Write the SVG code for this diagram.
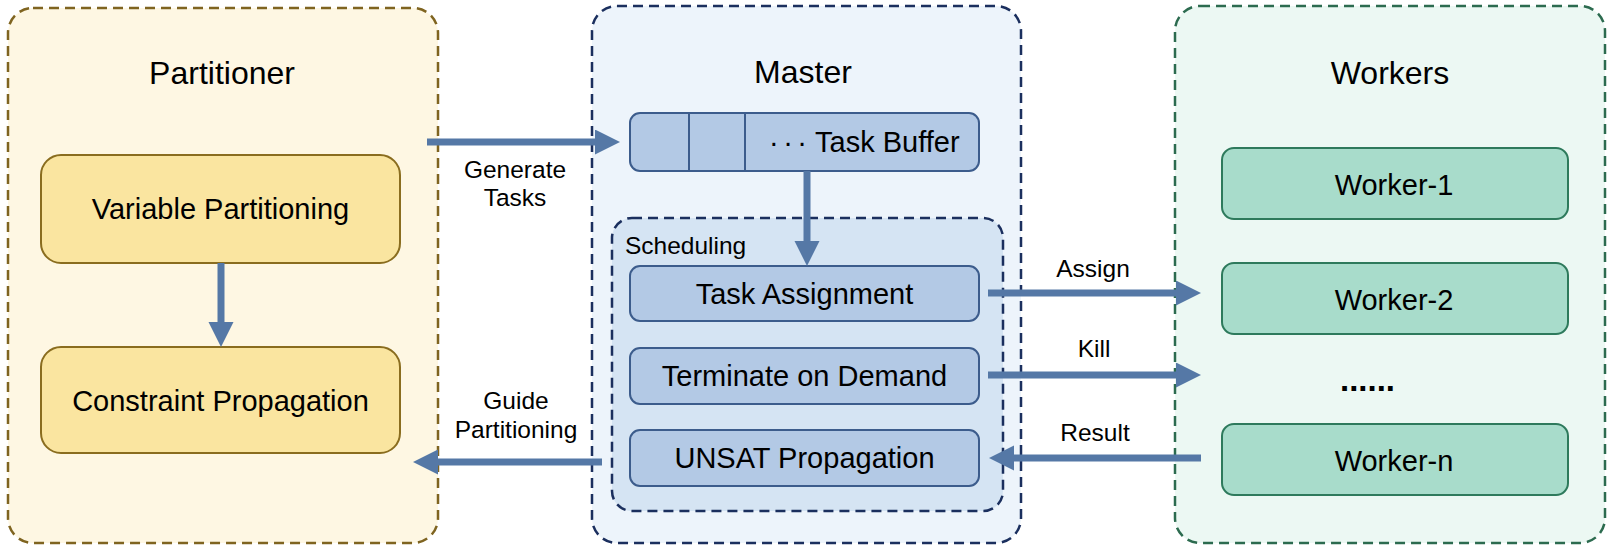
<svg xmlns="http://www.w3.org/2000/svg" width="1615" height="551" viewBox="0 0 1615 551">
<defs>
<marker id="ah" markerUnits="userSpaceOnUse" markerWidth="26" markerHeight="26" refX="0" refY="12.5" orient="auto">
<path d="M0,0 L25,12.5 L0,25 z" fill="#5578a6"/>
</marker>
<style>
text{font-family:"Liberation Sans",Arial,sans-serif;fill:#000}
.title{font-size:32px;text-anchor:middle}
.lbl{font-size:29px;text-anchor:middle}
.small{font-size:24.5px;text-anchor:middle}
.cont{stroke-width:2.5;stroke-dasharray:10 6}
.part{fill:#fef7e3;stroke:#7f6420}
.mast{fill:#edf4fb;stroke:#1b2f5e}
.sched{fill:#d5e4f3;stroke:#1b2f5e}
.work{fill:#ecf8f3;stroke:#2c6b4f}
.ybox{fill:#fae5a0;stroke:#8a6d1f;stroke-width:2}
.bbox{fill:#b3c9e5;stroke:#3c5c8c;stroke-width:2}
.gbox{fill:#a8dccb;stroke:#2e7a5c;stroke-width:2}
.conn{stroke:#5578a6;stroke-width:7;fill:none;marker-end:url(#ah)}
</style>
</defs>

<g id="partitioner">
<rect class="cont part" x="8" y="8" width="430" height="535" rx="25"/>
<text class="title" x="222" y="84">Partitioner</text>
</g>
<g id="variable-partitioning">
<rect class="ybox" x="41" y="155" width="359" height="108" rx="20"/>
<text class="lbl" x="220.5" y="219">Variable Partitioning</text>
</g>
<g id="constraint-propagation">
<rect class="ybox" x="41" y="347" width="359" height="106" rx="20"/>
<text class="lbl" x="220.5" y="411">Constraint Propagation</text>
</g>

<g id="master">
<rect class="cont mast" x="592" y="6" width="429" height="537" rx="25"/>
<text class="title" x="803" y="83">Master</text>
</g>
<g id="task-buffer">
<rect class="bbox" x="630" y="113" width="349" height="58" rx="10"/>
<line x1="689" y1="113" x2="689" y2="171" stroke="#3c5c8c" stroke-width="2"/>
<line x1="745" y1="113" x2="745" y2="171" stroke="#3c5c8c" stroke-width="2"/>
<text x="769" y="152" style="font-size:29px;letter-spacing:4.5px">···</text>
<text x="815" y="152" style="font-size:29px">Task Buffer</text>
</g>
<g id="scheduling">
<rect class="cont sched" x="612" y="218" width="391" height="293" rx="20"/>
<text x="625" y="254" style="font-size:24.5px">Scheduling</text>
</g>
<g id="task-assignment">
<rect class="bbox" x="630" y="266" width="349" height="55" rx="10"/>
<text class="lbl" x="804.5" y="303.5">Task Assignment</text>
</g>
<g id="terminate-on-demand">
<rect class="bbox" x="630" y="348" width="349" height="56" rx="10"/>
<text class="lbl" x="804.5" y="386">Terminate on Demand</text>
</g>
<g id="unsat-propagation">
<rect class="bbox" x="630" y="430" width="349" height="56" rx="10"/>
<text class="lbl" x="804.5" y="468">UNSAT Propagation</text>
</g>

<g id="workers">
<rect class="cont work" x="1175" y="6" width="430" height="537" rx="25"/>
<text class="title" x="1390" y="84">Workers</text>
<text x="1367.5" y="391" style="font-size:33px;font-weight:bold;text-anchor:middle">......</text>
</g>
<g id="worker-1">
<rect class="gbox" x="1222" y="148" width="346" height="71" rx="12"/>
<text class="lbl" x="1394" y="195">Worker-1</text>
</g>
<g id="worker-2">
<rect class="gbox" x="1222" y="263" width="346" height="71" rx="12"/>
<text class="lbl" x="1394" y="310">Worker-2</text>
</g>
<g id="worker-n">
<rect class="gbox" x="1222" y="424" width="346" height="71" rx="12"/>
<text class="lbl" x="1394" y="471">Worker-n</text>
</g>

<g id="connectors">
<line class="conn" x1="427" y1="142" x2="595" y2="142"/>
<text class="small" x="515" y="178">Generate</text>
<text class="small" x="515" y="206">Tasks</text>
<line class="conn" x1="807" y1="171" x2="807" y2="241"/>
<line class="conn" x1="221" y1="263" x2="221" y2="322"/>
<line class="conn" x1="988" y1="293" x2="1176" y2="293"/>
<text class="small" x="1093" y="277">Assign</text>
<line class="conn" x1="988" y1="375" x2="1176" y2="375"/>
<text class="small" x="1094" y="357">Kill</text>
<line class="conn" x1="1201" y1="458" x2="1014" y2="458"/>
<text class="small" x="1095" y="441">Result</text>
<line class="conn" x1="602" y1="462" x2="438" y2="462"/>
<text class="small" x="516" y="409">Guide</text>
<text class="small" x="516" y="438">Partitioning</text>
</g>
</svg>
